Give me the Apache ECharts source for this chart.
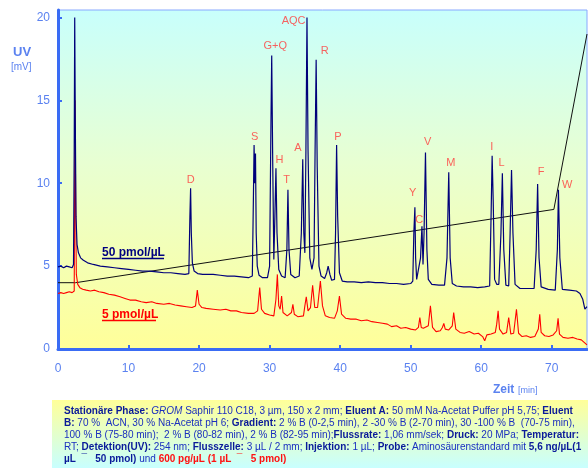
<!DOCTYPE html>
<html>
<head>
<meta charset="utf-8">
<script src="https://cdn.jsdelivr.net/npm/echarts@6/dist/echarts.min.js"></script>
<style>html,body{margin:0;padding:0;background:#fff}#c{width:588px;height:468px}</style>
</head>
<body>
<div id="c"></div>
<script>
// ---- data ----
const xTicks = [0, 10, 20, 30, 40, 50, 60, 70];
const yTicks = [0, 5, 10, 15, 20];

// 50 pmol/µL trace [time min, mV]
const blueTrace = [
[0,4.95],[0.4,5.0],[0.8,4.9],[1.2,5.0],[1.6,4.95],[2.0,4.9],[2.2,5.1],[2.3,12],[2.37,20.0],[2.45,14],[2.55,8],[2.7,6.3],[2.9,5.8],[3.2,5.5],[3.6,5.35],[4.2,5.2],[5,5.1],[6,5.0],[7,4.95],[8,4.9],[9,4.85],[10,4.8],[11,4.75],[12,4.7],[13,4.7],[14,4.65],[15,4.6],[16,4.6],[17,4.55],[18,4.5],
[18.55,4.55],[18.7,8],[18.8,9.7],[18.9,7],[19.05,5.2],[19.3,4.7],[19.8,4.55],[20.5,4.5],[22,4.5],[23,4.45],[24,4.4],[25,4.4],[26,4.35],[27,4.3],
[27.55,4.4],[27.7,9],[27.8,12.3],[27.9,10],[28.0,11.8],[28.1,7],[28.25,5.0],[28.5,4.45],[29,4.3],[29.7,4.3],[30.0,5.0],[30.2,14],[30.3,17.7],[30.45,11],[30.6,5.4],[30.75,8],[30.9,10.9],[31.05,7],[31.3,4.8],[31.7,4.4],[32.2,4.3],[32.45,6],[32.6,9.6],[32.75,6],[33.0,4.5],[33.6,4.3],[34.2,4.4],[34.5,7],[34.7,11.45],[34.85,7],[35.0,5.8],[35.15,12],[35.3,20.0],[35.45,12],[35.7,5.5],[36.0,4.8],[36.3,5.5],[36.45,12],[36.6,17.45],[36.75,11],[37.0,5.0],[37.3,4.4],[37.8,4.25],[38.1,4.6],[38.3,5.0],[38.55,4.5],[38.8,4.15],[39.2,4.2],[39.35,7],[39.5,12.3],[39.65,8],[39.9,4.6],[40.3,4.1],
[41,4.05],[42,4.05],[43,4.0],[44,4.05],[45,4.0],[46,4.0],[47,3.95],[48,3.95],[49,3.9],[50,3.95],[50.3,4.1],[50.45,7],[50.6,8.55],[50.7,5.5],[50.85,4.2],[51.1,4.15],[51.4,5.5],[51.6,7.4],[51.75,5.1],[51.9,7],[52.1,11.85],[52.3,6],[52.5,4.2],[53,3.9],[54,3.85],[54.8,3.85],[55.15,5.5],[55.4,10.66],[55.6,5.5],[55.9,3.95],[56.5,3.8],[57.5,3.75],[58.5,3.75],[59.5,3.7],[60.5,3.75],[61.2,3.8],[61.4,8],[61.55,11.65],[61.7,9],[61.9,4.2],[62.2,3.9],[62.5,3.9],[62.8,7],[63.0,10.6],[63.2,6],[63.5,3.85],[63.9,3.8],[64.1,7],[64.3,10.8],[64.5,7],[64.8,3.9],[65.5,3.65],[66.5,3.65],[67.5,3.65],[67.8,6],[68.0,9.96],[68.2,5.5],[68.5,3.75],[69.5,3.6],[70.5,3.55],[70.8,6],[70.95,9.6],[71.15,5.5],[71.5,3.6],[72.5,3.55],[73.5,3.5],[74.0,3.35],[74.4,3.0],[74.7,2.4],[75.0,2.55]
];

// 5 pmol/µL trace [time min, mV]
const redTrace = [
[0,3.35],[0.4,3.4],[0.8,3.35],[1.2,3.4],[1.6,3.45],[2.0,3.4],[2.3,3.5],[2.35,9],[2.42,15.0],[2.5,9],[2.6,4.5],[2.8,3.9],[3.1,3.7],[3.5,3.6],[4,3.55],[4.6,3.5],[5.2,3.55],[5.8,3.45],[6.5,3.4],[7.2,3.3],[8,3.25],[8.8,3.15],[9.5,3.05],[10.2,2.95],[11,2.95],[11.8,2.85],[12.5,2.8],[13.3,2.85],[14,2.75],[15,2.7],[15.8,2.75],[16.6,2.65],[17.4,2.6],[18.2,2.55],[19.0,2.5],[19.5,2.6],[19.75,3.55],[20.0,2.7],[20.4,2.5],[21,2.45],[22,2.4],[23,2.35],[23.8,2.4],[24.5,2.3],[25.3,2.3],[26,2.2],[27,2.15],[27.8,2.15],[28.3,2.3],[28.6,3.7],[28.85,2.4],[29.3,2.15],[30,2.05],[30.6,2.0],[30.9,3],[31.1,4.5],[31.3,2.6],[31.5,2.4],[31.7,3.2],[31.9,2.2],[32.5,2.0],[33.1,2.2],[33.3,2.7],[33.5,2.1],[34.0,1.95],[34.8,2.0],[35.0,2.6],[35.2,3.15],[35.45,2.3],[35.8,2.5],[36.1,3.85],[36.4,2.5],[36.8,2.5],[37.2,4.1],[37.5,2.6],[37.9,2.0],[38.5,1.9],[39.2,1.85],[39.6,2.3],[39.9,3.2],[40.2,2.1],[40.8,1.85],[41.5,1.8],[42.3,1.8],[43,1.7],[43.8,1.75],[44.5,1.65],[45.3,1.6],[46,1.55],[46.7,1.5],[47.3,1.35],[48,1.4],[48.6,1.25],[49.3,1.3],[50,1.2],[50.7,1.15],[51.1,1.3],[51.3,1.9],[51.5,1.3],[51.8,1.25],[52.5,1.4],[52.8,2.6],[53.1,1.3],[53.6,1.05],[54.2,1.1],[54.5,1.3],[54.7,1.55],[54.9,1.2],[55.4,1.15],[55.9,1.4],[56.1,2.2],[56.4,1.2],[57,1.0],[57.6,0.95],[58.3,1.05],[59,0.9],[59.6,0.95],[60.2,0.75],[60.5,0.5],[60.8,0.85],[61.4,0.9],[62.0,1.0],[62.2,1.5],[62.4,2.3],[62.6,1.2],[63.1,0.9],[63.6,1.0],[63.9,1.9],[64.2,0.9],[64.6,0.95],[65.0,2.4],[65.3,0.95],[65.8,0.75],[66.4,0.8],[67,0.7],[67.6,0.75],[68.1,1.2],[68.3,2.1],[68.5,1.0],[69.0,0.8],[69.6,0.75],[70.2,0.85],[70.7,1.1],[70.9,1.85],[71.1,0.9],[71.6,0.7],[72.3,0.65],[73,0.7],[73.6,0.6],[74.2,0.55],[74.6,0.4],[75,0.25]
];

// gradient profile line
const gradientLine = [[0,4.0],[2.5,4.0],[70.3,8.42],[75,19.0]];

// peak labels
const peakNames  = ['D','S','G+Q','H','T','A','AQC','R','P','Y','C','V','M','I','L','F','W'];
const peakLabelX = [18.8,27.9,30.8,31.4,32.4,34.0,33.4,37.8,39.7,50.3,51.2,52.4,55.7,61.5,62.9,68.5,72.2];
const peakLabelY = [10.2,12.8,18.3,11.4,10.2,12.1,19.8,17.95,12.8,9.4,7.8,12.5,11.2,12.2,11.2,10.7,9.9];

// ---- chart ----
const chart = echarts.init(document.getElementById('c'), null, {renderer: 'canvas'});
const axisBlue = '#3a6cf4';
const labelBlue = '#5b82f0';
const FONT = 'Liberation Sans, Arial, sans-serif';

const labelData = peakNames.map((n, i) => [peakLabelX[i], peakLabelY[i], n]);

const textNavy = '#1a2fbf';
const rich = {
  b: {fontWeight: 'bold', fill: '#0a1a99', fontSize: 10, fontFamily: FONT},
  i: {fontStyle: 'italic', fill: textNavy, fontSize: 10, fontFamily: FONT},
  n: {fill: textNavy, fontSize: 10, fontFamily: FONT},
  r: {fontWeight: 'bold', fill: '#ff1111', fontSize: 10, fontFamily: FONT}
};
const infoLines = [
  '{b|Stationäre Phase:} {i|GROM}{n| Saphir 110 C18, 3 µm, 150 x 2 mm; }{b|Eluent A:}{n| 50 mM Na-Acetat Puffer pH 5,75; }{b|Eluent}',
  '{b|B:}{n| 70 %  ACN, 30 % Na-Acetat pH 6; }{b|Gradient:}{n| 2 % B (0-2,5 min), 2 -30 % B (2-70 min), 30 -100 % B  (70-75 min),}',
  '{n|100 % B (75-80 min);  2 % B (80-82 min), 2 % B (82-95 min);}{b|Flussrate:}{n| 1,06 mm/sek; }{b|Druck:}{n| 20 MPa; }{b|Temperatur:}',
  '{n|RT; }{b|Detektion(UV):}{n| 254 nm; }{b|Flusszelle:}{n| 3 µL / 2 mm; }{b|Injektion:}{n| 1 µL; }{b|Probe:}{n| Aminosäurenstandard mit }{b|5,6 ng/µL(1}',
  '{b|µL  ¯   50 pmol)}{n| und }{r|600 pg/µL (1 µL  ¯   5 pmol)}'
];
const infoY = [411, 423, 435, 447, 459];

const graphics = [
  {type: 'rect', shape: {x: 52, y: 400, width: 536, height: 68}, z: 0,
   style: {fill: new echarts.graphic.LinearGradient(0, 0, 0, 1, [{offset: 0, color: '#ffff99'}, {offset: 1, color: '#c8ffff'}])}},
  {type: 'text', x: 13, y: 52, style: {text: 'UV', font: 'bold 13px ' + FONT, fill: labelBlue, textVerticalAlign: 'middle'}},
  {type: 'text', x: 11, y: 67, style: {text: '[mV]', font: '10px ' + FONT, fill: labelBlue, textVerticalAlign: 'middle'}},
  {type: 'text', x: 493, y: 390, style: {text: 'Zeit', font: 'bold 12px ' + FONT, fill: labelBlue, textVerticalAlign: 'middle'}},
  {type: 'text', x: 518, y: 391, style: {text: '[min]', font: '9px ' + FONT, fill: labelBlue, textVerticalAlign: 'middle'}},
  {type: 'text', x: 102, y: 253, z: 10, style: {text: '50 pmol/µL', font: 'bold 12px ' + FONT, fill: '#000080', textVerticalAlign: 'middle'}},
  {type: 'line', z: 10, shape: {x1: 102, y1: 258.5, x2: 164, y2: 258.5}, style: {stroke: '#000080', lineWidth: 1.3}},
  {type: 'text', x: 102, y: 315, z: 10, style: {text: '5 pmol/µL', font: 'bold 12px ' + FONT, fill: '#ff0000', textVerticalAlign: 'middle'}},
  {type: 'line', z: 10, shape: {x1: 102, y1: 320.5, x2: 156, y2: 320.5}, style: {stroke: '#ff0000', lineWidth: 1.3}}
];
infoLines.forEach((t, i) => {
  graphics.push({type: 'text', x: 64, y: infoY[i], z: 5,
    style: {text: t, rich: rich, font: '10px ' + FONT, fill: textNavy, textVerticalAlign: 'middle'}});
});

chart.setOption({
  animation: false,
  backgroundColor: '#ffffff',
  grid: {
    left: 58, right: 1, top: 10, bottom: 119, show: true,
    borderColor: '#88a8ff', borderWidth: 1,
    backgroundColor: new echarts.graphic.LinearGradient(0, 0, 0, 1, [
      {offset: 0, color: '#c8fffc'}, {offset: 0.45, color: '#e8ffd2'}, {offset: 1, color: '#ffff99'}])
  },
  xAxis: {
    type: 'value', min: 0, max: 75, interval: 10,
    axisLine: {show: true, onZero: false, lineStyle: {color: axisBlue, width: 3}},
    axisTick: {show: true, inside: true, length: 4, lineStyle: {color: axisBlue, width: 2}, customValues: xTicks},
    axisLabel: {color: labelBlue, fontSize: 12, fontFamily: FONT, margin: 14, customValues: xTicks},
    splitLine: {show: false}
  },
  yAxis: {
    type: 'value', min: 0, max: 20.45, interval: 5,
    axisLine: {show: true, onZero: false, lineStyle: {color: axisBlue, width: 3}},
    axisTick: {show: true, inside: true, length: 4, lineStyle: {color: axisBlue, width: 2}, customValues: yTicks},
    axisLabel: {color: labelBlue, fontSize: 12, fontFamily: FONT, margin: 8, customValues: yTicks},
    splitLine: {show: false}
  },
  series: [
    {type: 'line', name: 'Gradient', data: gradientLine, symbol: 'none', z: 2,
     lineStyle: {color: '#111111', width: 1}},
    {type: 'line', name: '5 pmol/µL', data: redTrace, symbol: 'none', z: 3,
     lineStyle: {color: '#ff0000', width: 1.1}},
    {type: 'line', name: '50 pmol/µL', data: blueTrace, symbol: 'none', z: 4,
     lineStyle: {color: '#00007a', width: 1.2}},
    {type: 'scatter', name: 'labels', data: labelData, symbolSize: 0, z: 6, silent: true,
     label: {show: true, position: 'inside', formatter: p => p.data[2], color: '#ff3b3b', fontSize: 11, fontFamily: FONT}}
  ],
  graphic: graphics
});
</script>
</body>
</html>
